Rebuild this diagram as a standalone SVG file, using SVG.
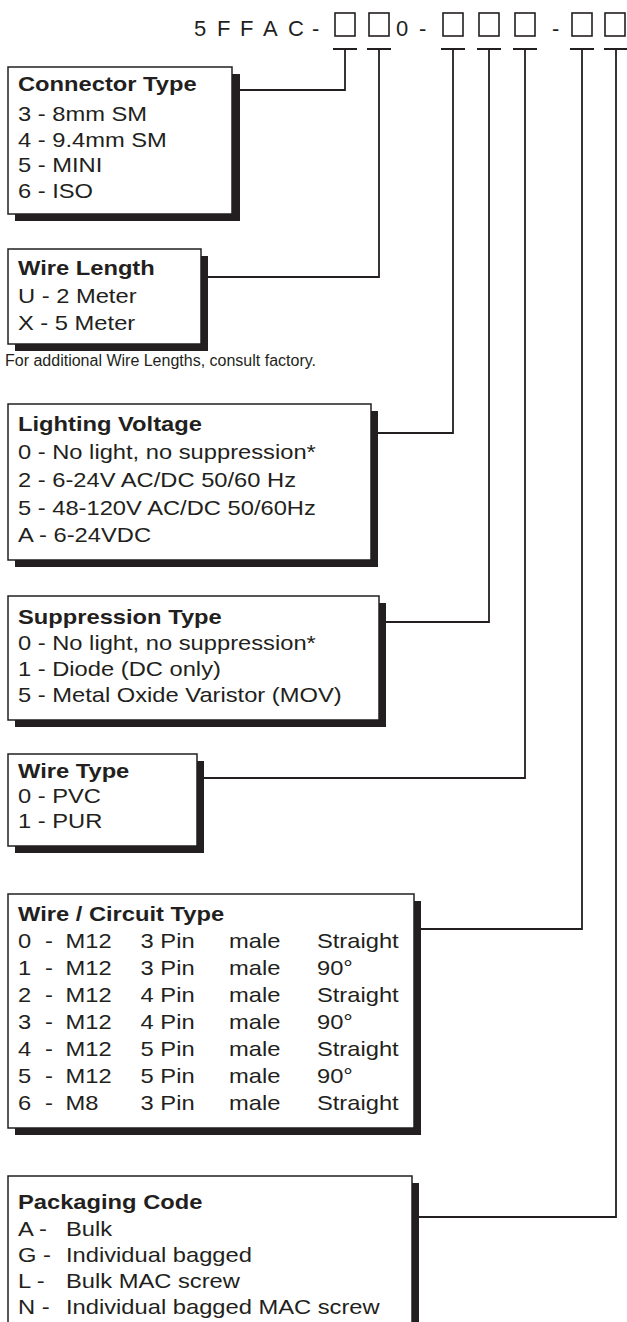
<svg xmlns="http://www.w3.org/2000/svg" width="627" height="1322" viewBox="0 0 627 1322">
<style>
text{font-family:"Liberation Sans",Arial,sans-serif;fill:#231f20}
.h{font-size:22px}
.t{font-size:21px}
.b{font-weight:bold}
.n{font-size:16px}
.sh{fill:#231f20}
.bx{fill:#fff;stroke:#231f20;stroke-width:1.5}
.ln{fill:none;stroke:#231f20;stroke-width:1.8}
.sq{fill:#fff;stroke:#231f20;stroke-width:1.6}
</style>
<g id="header">
<text class="h" x="194 217 240 263 288 312" y="36">5FFAC-</text>
<text class="h" x="396" y="36">0</text>
<text class="h" x="419" y="36">-</text>
<text class="h" x="552" y="36">-</text>
<rect class="sq" x="335" y="13" width="20" height="23"/>
<rect class="sq" x="369" y="13" width="20" height="23"/>
<rect class="sq" x="443" y="13" width="20" height="23"/>
<rect class="sq" x="479" y="13" width="20" height="23"/>
<rect class="sq" x="515" y="13" width="20" height="23"/>
<rect class="sq" x="572" y="13" width="20" height="23"/>
<rect class="sq" x="605" y="13" width="20" height="23"/>
</g>
<g id="connectors">
<path class="ln" d="M333 49H357M345 49V90H240"/>
<path class="ln" d="M367 49H391M379 49V277H208"/>
<path class="ln" d="M441 49H465M453 49V433H378"/>
<path class="ln" d="M477 49H501M489 49V622H386"/>
<path class="ln" d="M513 49H537M525 49V778H204"/>
<path class="ln" d="M570 49H594M582 49V929H421"/>
<path class="ln" d="M604 49H628M616 49V1217H419"/>
</g>
<g id="connector-type">
<rect class="sh" x="15" y="74" width="225" height="147"/>
<rect class="bx" x="8" y="67" width="224" height="147"/>
<g transform="matrix(1.13 0 0 1 0 0)">
<text class="t b" x="15.9" y="91">Connector Type</text>
<text class="t" x="15.9" y="121">3 - 8mm SM</text>
<text class="t" x="15.9" y="147">4 - 9.4mm SM</text>
<text class="t" x="15.9" y="172">5 - MINI</text>
<text class="t" x="15.9" y="198">6 - ISO</text>
</g>
</g>
<g id="wire-length">
<rect class="sh" x="15" y="256" width="193" height="95"/>
<rect class="bx" x="8" y="249" width="193" height="95"/>
<g transform="matrix(1.13 0 0 1 0 0)">
<text class="t b" x="15.9" y="275">Wire Length</text>
<text class="t" x="15.9" y="303">U - 2 Meter</text>
<text class="t" x="15.9" y="330">X - 5 Meter</text>
</g>
</g>
<g id="note">
<text class="n" x="5" y="366">For additional Wire Lengths, consult factory.</text>
</g>
<g id="lighting-voltage">
<rect class="sh" x="15" y="411" width="363" height="156"/>
<rect class="bx" x="8" y="404" width="363" height="156"/>
<g transform="matrix(1.13 0 0 1 0 0)">
<text class="t b" x="15.9" y="431">Lighting Voltage</text>
<text class="t" x="15.9" y="459">0 - No light, no suppression*</text>
<text class="t" x="15.9" y="487">2 - 6-24V AC/DC 50/60 Hz</text>
<text class="t" x="15.9" y="515">5 - 48-120V AC/DC 50/60Hz</text>
<text class="t" x="15.9" y="542">A - 6-24VDC</text>
</g>
</g>
<g id="suppression-type">
<rect class="sh" x="15" y="603" width="371" height="124"/>
<rect class="bx" x="8" y="596" width="371" height="124"/>
<g transform="matrix(1.13 0 0 1 0 0)">
<text class="t b" x="15.9" y="624">Suppression Type</text>
<text class="t" x="15.9" y="650">0 - No light, no suppression*</text>
<text class="t" x="15.9" y="676">1 - Diode (DC only)</text>
<text class="t" x="15.9" y="702">5 - Metal Oxide Varistor (MOV)</text>
</g>
</g>
<g id="wire-type">
<rect class="sh" x="15" y="761" width="189" height="92"/>
<rect class="bx" x="8" y="754" width="189" height="92"/>
<g transform="matrix(1.13 0 0 1 0 0)">
<text class="t b" x="15.9" y="778">Wire Type</text>
<text class="t" x="15.9" y="803">0 - PVC</text>
<text class="t" x="15.9" y="828">1 - PUR</text>
</g>
</g>
<g id="wire-circuit-type">
<rect class="sh" x="15" y="901" width="406" height="234"/>
<rect class="bx" x="8" y="894" width="406" height="234"/>
<g transform="matrix(1.13 0 0 1 0 0)">
<text class="t b" x="15.9" y="921">Wire / Circuit Type</text>
<g>
<text class="t" x="15.9" y="948">0</text><text class="t" x="39.8" y="948">-</text><text class="t" x="58" y="948">M12</text><text class="t" x="124.4" y="948">3 Pin</text><text class="t" x="202.7" y="948">male</text><text class="t" x="280.5" y="948">Straight</text>
<text class="t" x="15.9" y="975">1</text><text class="t" x="39.8" y="975">-</text><text class="t" x="58" y="975">M12</text><text class="t" x="124.4" y="975">3 Pin</text><text class="t" x="202.7" y="975">male</text><text class="t" x="280.5" y="975">90°</text>
<text class="t" x="15.9" y="1002">2</text><text class="t" x="39.8" y="1002">-</text><text class="t" x="58" y="1002">M12</text><text class="t" x="124.4" y="1002">4 Pin</text><text class="t" x="202.7" y="1002">male</text><text class="t" x="280.5" y="1002">Straight</text>
<text class="t" x="15.9" y="1029">3</text><text class="t" x="39.8" y="1029">-</text><text class="t" x="58" y="1029">M12</text><text class="t" x="124.4" y="1029">4 Pin</text><text class="t" x="202.7" y="1029">male</text><text class="t" x="280.5" y="1029">90°</text>
<text class="t" x="15.9" y="1056">4</text><text class="t" x="39.8" y="1056">-</text><text class="t" x="58" y="1056">M12</text><text class="t" x="124.4" y="1056">5 Pin</text><text class="t" x="202.7" y="1056">male</text><text class="t" x="280.5" y="1056">Straight</text>
<text class="t" x="15.9" y="1083">5</text><text class="t" x="39.8" y="1083">-</text><text class="t" x="58" y="1083">M12</text><text class="t" x="124.4" y="1083">5 Pin</text><text class="t" x="202.7" y="1083">male</text><text class="t" x="280.5" y="1083">90°</text>
<text class="t" x="15.9" y="1110">6</text><text class="t" x="39.8" y="1110">-</text><text class="t" x="58" y="1110">M8</text><text class="t" x="124.4" y="1110">3 Pin</text><text class="t" x="202.7" y="1110">male</text><text class="t" x="280.5" y="1110">Straight</text>
</g>
</g>
</g>
<g id="packaging-code">
<rect class="sh" x="15" y="1183" width="404" height="160"/>
<rect class="bx" x="8" y="1176" width="404" height="160"/>
<g transform="matrix(1.13 0 0 1 0 0)">
<text class="t b" x="15.9" y="1209">Packaging Code</text>
<text class="t" x="15.9" y="1236">A -</text><text class="t" x="58.4" y="1236">Bulk</text>
<text class="t" x="15.9" y="1262">G -</text><text class="t" x="58.4" y="1262">Individual bagged</text>
<text class="t" x="15.9" y="1288">L -</text><text class="t" x="58.4" y="1288">Bulk MAC screw</text>
<text class="t" x="15.9" y="1314">N -</text><text class="t" x="58.4" y="1314">Individual bagged MAC screw</text>
</g>
</g>
</svg>
